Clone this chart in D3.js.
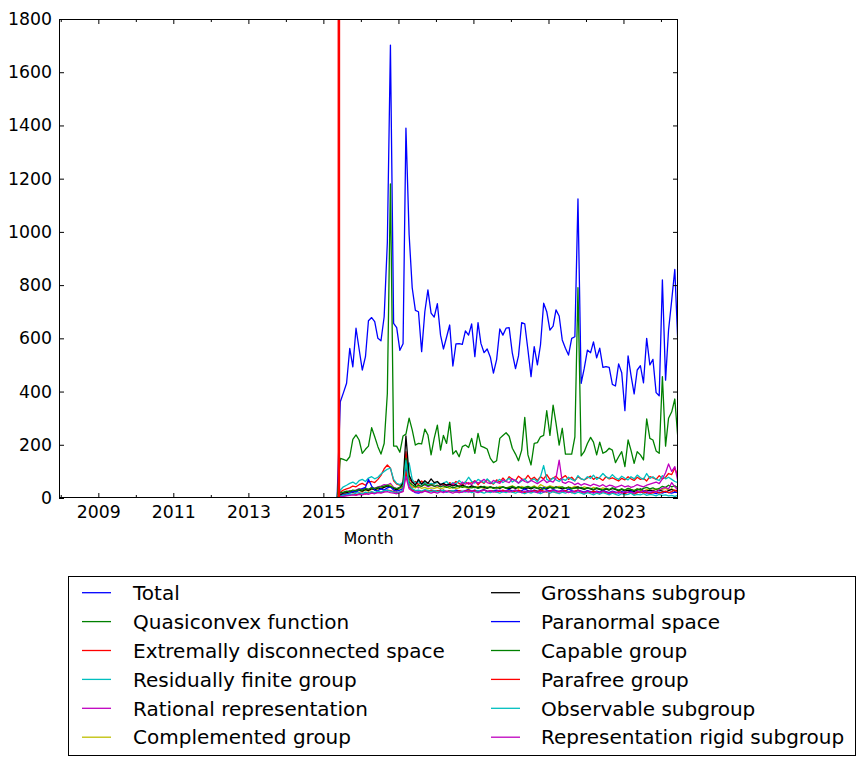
<!DOCTYPE html>
<html>
<head>
<meta charset="utf-8">
<script src="https://cdn.jsdelivr.net/npm/d3@7"></script>
<style>
  html, body { margin: 0; padding: 0; background: #ffffff; }
  svg { display: block; font-family: "DejaVu Sans", sans-serif; }
</style>
</head>
<body>
<svg id="chart" width="865" height="766"></svg>
<script>
// ---------------- DATA ----------------
const seriesNames = [
  "Total", "Quasiconvex function", "Extremally disconnected space",
  "Residually finite group", "Rational representation", "Complemented group",
  "Grosshans subgroup", "Paranormal space", "Capable group",
  "Parafree group", "Observable subgroup", "Representation rigid subgroup"
];
const seriesColors = ["#0000ff", "#008000", "#ff0000", "#00bfbf", "#bf00bf", "#bfbf00",
  "#000000", "#0000ff", "#008000", "#ff0000", "#00bfbf", "#bf00bf"];

// months with no activity (all series zero) before the first data month
const zeroMonths = ["2007-12", "2015-05"];
// first month of the monthly series below
const firstDataMonth = "2015-06";
const xDomainMonths = ["2007-12", "2024-06"];
const markerMonth = "2015-06-01";

const total = [362, 395, 431, 562, 493, 638, 560, 481, 531, 666,
  678, 663, 600, 591, 681, 960, 1702, 656, 640, 555,
  580, 1390, 990, 790, 705, 700, 550, 700, 782, 695,
  680, 730, 612, 560, 605, 650, 496, 579, 580, 577,
  628, 612, 654, 531, 659, 581, 546, 560, 529, 469,
  520, 635, 612, 638, 640, 544, 486, 534, 659, 654,
  556, 456, 569, 500, 575, 732, 700, 631, 646, 707,
  684, 594, 563, 537, 600, 606, 1124, 431, 487, 556,
  546, 587, 527, 563, 491, 494, 491, 427, 421, 504,
  471, 328, 534, 462, 391, 481, 497, 433, 600, 500,
  521, 396, 384, 820, 443, 631, 744, 859, 569];
const quasiconvex = [149, 145, 140, 155, 220, 237, 218, 168, 183, 195,
  264, 230, 193, 165, 205, 393, 1180, 195, 195, 172,
  233, 240, 300, 256, 199, 205, 203, 259, 237, 162,
  224, 274, 180, 235, 205, 285, 165, 178, 155, 193,
  199, 190, 224, 168, 243, 195, 190, 184, 149, 133,
  140, 224, 235, 245, 232, 187, 165, 140, 180, 303,
  162, 124, 205, 208, 230, 235, 328, 235, 349, 281,
  199, 262, 165, 165, 165, 230, 790, 158, 174, 205,
  228, 210, 162, 210, 168, 174, 187, 180, 133, 155,
  174, 118, 218, 180, 130, 174, 162, 143, 297, 224,
  218, 177, 168, 456, 195, 300, 324, 372, 218];
const extremally = [22, 30, 34, 38, 45, 42, 50, 55, 48, 60,
  62, 58, 70, 85, 110, 124, 112, 65, 52, 48,
  55, 174, 72, 58, 62, 50, 64, 52, 58, 47,
  55, 60, 48, 52, 45, 58, 50, 62, 55, 48,
  60, 52, 58, 65, 50, 62, 55, 70, 58, 52,
  68, 60, 75, 62, 80, 70, 65, 82, 72, 68,
  85, 70, 78, 66, 80, 72, 88, 70, 75, 82,
  68, 76, 84, 70, 78, 65, 80, 72, 68, 75,
  82, 70, 78, 74, 66, 80, 72, 76, 70, 64,
  74, 68, 80, 72, 66, 78, 70, 74, 64, 80,
  76, 70, 84, 72, 78, 92, 88, 112, 80];
const residually = [30, 42, 48, 55, 60, 52, 65, 70, 62, 75,
  80, 72, 78, 90, 100, 108, 112, 70, 55, 50,
  60, 110, 132, 70, 55, 62, 50, 58, 48, 55,
  52, 60, 50, 56, 62, 48, 58, 52, 66, 55,
  60, 78, 62, 56, 70, 64, 58, 72, 60, 55,
  62, 70, 58, 66, 74, 60, 68, 56, 64, 72,
  58, 66, 72, 60, 80, 122, 70, 64, 76, 68,
  62, 72, 66, 78, 70, 64, 84, 72, 68, 80,
  74, 86, 70, 78, 92, 80, 74, 88, 76, 70,
  82, 74, 68, 80, 72, 86, 76, 70, 92, 74,
  80, 70, 66, 84, 72, 78, 70, 62, 58];
const rational = [15, 20, 22, 28, 25, 30, 35, 32, 38, 30,
  40, 36, 42, 45, 50, 48, 55, 40, 35, 38,
  42, 95, 50, 40, 45, 38, 44, 50, 42, 48,
  45, 40, 52, 46, 50, 44, 55, 48, 42, 60,
  52, 58, 50, 64, 56, 62, 70, 58, 54, 66,
  60, 55, 68, 62, 58, 72, 64, 56, 70, 62,
  58, 66, 60, 54, 62, 70, 58, 64, 60, 75,
  142, 60, 55, 62, 58, 50, 56, 48, 54, 50,
  46, 52, 48, 44, 50, 42, 48, 46, 40, 44,
  48, 42, 46, 40, 44, 50, 46, 42, 48, 52,
  56, 60, 54, 72, 95, 128, 100, 118, 60];
const complemented = [10, 14, 18, 22, 20, 25, 28, 24, 30, 26,
  32, 35, 30, 38, 42, 45, 50, 36, 30, 34,
  40, 120, 60, 42, 38, 44, 36, 40, 34, 38,
  36, 40, 34, 38, 42, 36, 40, 35, 38, 44,
  40, 36, 42, 38, 44, 40, 36, 42, 38, 40,
  36, 44, 40, 38, 42, 46, 40, 36, 44, 38,
  42, 40, 46, 38, 50, 44, 40, 46, 42, 38,
  44, 40, 36, 42, 38, 44, 40, 36, 42, 38,
  34, 40, 36, 32, 38, 34, 30, 36, 32, 28,
  34, 30, 36, 32, 28, 34, 30, 26, 32, 28,
  30, 34, 28, 32, 36, 30, 34, 28, 30];
const grosshans = [12, 18, 20, 25, 22, 28, 30, 26, 32, 28,
  35, 30, 38, 34, 40, 45, 42, 36, 30, 40,
  55, 233, 85, 60, 48, 70, 52, 65, 55, 72,
  58, 62, 50, 55, 48, 52, 45, 50, 42, 48,
  44, 40, 46, 42, 38, 44, 40, 36, 42, 38,
  40, 36, 42, 38, 34, 40, 36, 42, 38, 35,
  38, 34, 40, 36, 32, 38, 34, 40, 36, 42,
  38, 34, 36, 40, 35, 38, 42, 36, 32, 38,
  34, 30, 36, 32, 28, 34, 30, 36, 32, 28,
  32, 26, 30, 28, 24, 30, 34, 28, 26, 30,
  28, 24, 30, 26, 22, 28, 32, 26, 30];
const paranormal = [8, 12, 15, 18, 25, 22, 30, 35, 40, 70,
  45, 30, 28, 34, 30, 38, 42, 30, 26, 30,
  35, 110, 45, 30, 20, 18, 22, 28, 25, 30,
  28, 24, 30, 26, 22, 28, 25, 30, 27, 24,
  28, 32, 26, 30, 24, 28, 32, 26, 22, 28,
  30, 26, 24, 28, 32, 26, 30, 24, 28, 34,
  28, 24, 30, 26, 22, 40, 30, 26, 32, 28,
  24, 30, 26, 34, 28, 24, 30, 26, 22, 28,
  24, 20, 26, 22, 28, 24, 20, 26, 22, 18,
  24, 20, 22, 26, 18, 22, 20, 24, 18, 22,
  20, 16, 22, 18, 24, 20, 18, 22, 20];
const capable = [20, 22, 26, 24, 30, 28, 32, 30, 35, 33,
  38, 36, 40, 42, 45, 48, 44, 38, 35, 40,
  45, 150, 60, 50, 42, 48, 44, 52, 46, 50,
  44, 48, 42, 46, 40, 44, 38, 42, 46, 40,
  44, 40, 38, 42, 36, 40, 44, 38, 42, 36,
  40, 38, 42, 36, 40, 44, 38, 42, 36, 40,
  44, 38, 42, 36, 40, 34, 38, 42, 36, 40,
  38, 42, 36, 40, 34, 38, 36, 40, 34, 38,
  36, 32, 38, 34, 30, 36, 32, 38, 34, 30,
  34, 30, 36, 32, 28, 34, 30, 36, 40, 34,
  38, 32, 36, 44, 40, 48, 42, 46, 38];
const parafree = [5, 8, 10, 12, 14, 12, 16, 18, 15, 20,
  22, 18, 24, 20, 26, 30, 28, 24, 20, 22,
  26, 100, 40, 30, 26, 28, 24, 30, 26, 28,
  24, 28, 26, 30, 24, 28, 26, 22, 28, 24,
  26, 30, 24, 28, 22, 26, 30, 24, 28, 26,
  22, 26, 30, 24, 28, 22, 26, 30, 24, 20,
  26, 22, 28, 24, 30, 26, 22, 28, 24, 20,
  26, 22, 28, 24, 20, 26, 30, 22, 18, 24,
  20, 26, 22, 18, 24, 20, 16, 22, 18, 24,
  20, 16, 22, 18, 14, 20, 24, 18, 22, 16,
  20, 24, 18, 22, 26, 20, 24, 30, 22];
const observable = [6, 10, 12, 15, 14, 18, 20, 16, 22, 18,
  24, 20, 26, 22, 28, 30, 26, 22, 18, 24,
  30, 140, 45, 35, 28, 30, 26, 32, 28, 24,
  28, 24, 26, 30, 22, 26, 28, 24, 20, 26,
  22, 26, 20, 24, 28, 22, 18, 24, 20, 26,
  22, 18, 24, 20, 26, 22, 18, 24, 20, 16,
  22, 18, 24, 20, 16, 22, 26, 18, 24, 20,
  16, 22, 18, 24, 20, 16, 22, 18, 14, 20,
  16, 12, 18, 14, 20, 16, 12, 18, 14, 10,
  16, 12, 14, 18, 10, 14, 12, 16, 10, 14,
  12, 8, 14, 10, 12, 8, 10, 6, 10];
const repRigid = [4, 6, 8, 10, 12, 10, 14, 12, 16, 14,
  18, 16, 20, 18, 22, 24, 20, 18, 16, 20,
  24, 80, 35, 26, 22, 24, 20, 26, 22, 18,
  22, 18, 24, 20, 26, 22, 18, 24, 20, 22,
  26, 22, 28, 24, 20, 26, 30, 24, 28, 22,
  26, 30, 24, 28, 22, 26, 30, 24, 20, 26,
  22, 28, 24, 20, 26, 22, 28, 24, 30, 26,
  22, 28, 24, 20, 26, 22, 28, 24, 20, 26,
  22, 18, 24, 20, 26, 22, 18, 24, 20, 22,
  18, 24, 20, 22, 18, 26, 22, 28, 24, 20,
  26, 22, 30, 36, 40, 34, 58, 42, 30];

const seriesValues = [total, quasiconvex, extremally, residually, rational, complemented,
  grosshans, paranormal, capable, parafree, observable, repRigid];

const yTicks = [0, 200, 400, 600, 800, 1000, 1200, 1400, 1600, 1800];
const xMajorYears = [2009, 2011, 2013, 2015, 2017, 2019, 2021, 2023];
const xMinorYears = [2008, 2010, 2012, 2014, 2016, 2018, 2020, 2022, 2024];
const xLabel = "Month";

// ---------------- LAYOUT ----------------
const M = { left: 59, right: 678, top: 19, bottom: 498 };
const tickFont = "17.3px";
const legendFont = "20px";
const parseMonth = s => { const [y, m] = s.split("-").map(Number); return new Date(y, m - 1, 15); };
const parseDay = s => { const [y, m, d] = s.split("-").map(Number); return new Date(y, m - 1, d); };

const x = d3.scaleTime()
  .domain(xDomainMonths.map(parseMonth))
  .range([M.left, M.right]);
const y = d3.scaleLinear().domain([0, 1800]).range([M.bottom, M.top]);

const firstDate = parseMonth(firstDataMonth);
const dataDates = total.map((_, i) => d3.timeMonth.offset(firstDate, i));
const zeroDates = zeroMonths.map(parseMonth);

const svg = d3.select("#chart");
svg.append("rect").attr("width", 865).attr("height", 766).attr("fill", "#fff");

svg.append("defs").append("clipPath").attr("id", "clip")
  .append("rect").attr("x", M.left).attr("y", M.top)
  .attr("width", M.right - M.left).attr("height", M.bottom - M.top);

const line = d3.line().x(d => x(d[0])).y(d => y(d[1]));

const gLines = svg.append("g").attr("clip-path", "url(#clip)");
seriesValues.forEach((vals, k) => {
  const pts = zeroDates.map(d => [d, 0]).concat(vals.map((v, i) => [dataDates[i], v]));
  gLines.append("path")
    .datum(pts)
    .attr("d", line)
    .attr("fill", "none")
    .attr("stroke", seriesColors[k])
    .attr("stroke-width", 1.3)
    .attr("stroke-linejoin", "round");
});

// red vertical marker
const mx = x(parseDay(markerMonth));
gLines.append("line")
  .attr("x1", mx).attr("x2", mx)
  .attr("y1", M.top).attr("y2", M.bottom)
  .attr("stroke", "#ff0000").attr("stroke-width", 2.6);

// ---------------- AXES ----------------
const majorDates = xMajorYears.map(yr => new Date(yr, 0, 1));
const minorDates = xMinorYears.map(yr => new Date(yr, 0, 1));

function styleAxis(g) {
  g.select(".domain").remove();
  g.selectAll("line").attr("stroke", "#000").attr("stroke-width", 1);
  g.selectAll("text").attr("fill", "#000").style("font-size", tickFont)
    .style("font-family", "'DejaVu Sans', sans-serif");
}

// bottom
svg.append("g").attr("transform", `translate(0,${M.bottom})`)
  .call(d3.axisBottom(x).tickValues(majorDates).tickFormat(d3.timeFormat("%Y"))
    .tickSizeInner(-5).tickSizeOuter(0).tickPadding(8))
  .call(styleAxis);
svg.append("g").attr("transform", `translate(0,${M.bottom})`)
  .call(d3.axisBottom(x).tickValues(minorDates).tickFormat("").tickSizeInner(-3).tickSizeOuter(0))
  .call(styleAxis);
// top
svg.append("g").attr("transform", `translate(0,${M.top})`)
  .call(d3.axisTop(x).tickValues(majorDates).tickFormat("").tickSizeInner(-5).tickSizeOuter(0))
  .call(styleAxis);
svg.append("g").attr("transform", `translate(0,${M.top})`)
  .call(d3.axisTop(x).tickValues(minorDates).tickFormat("").tickSizeInner(-3).tickSizeOuter(0))
  .call(styleAxis);
// left
svg.append("g").attr("transform", `translate(${M.left},0)`)
  .call(d3.axisLeft(y).tickValues(yTicks).tickFormat(d3.format("d"))
    .tickSizeInner(-5).tickSizeOuter(0).tickPadding(7))
  .call(styleAxis);
// right
svg.append("g").attr("transform", `translate(${M.right},0)`)
  .call(d3.axisRight(y).tickValues(yTicks).tickFormat("").tickSizeInner(-5).tickSizeOuter(0))
  .call(styleAxis);

// frame
svg.append("rect")
  .attr("x", M.left + 0.5).attr("y", M.top + 0.5)
  .attr("width", M.right - M.left - 1).attr("height", M.bottom - M.top - 1)
  .attr("fill", "none").attr("stroke", "#000").attr("stroke-width", 1);

// x label
svg.append("text")
  .attr("x", (M.left + M.right) / 2).attr("y", 544)
  .attr("text-anchor", "middle")
  .style("font-size", "16px").attr("fill", "#000")
  .text(xLabel);

// ---------------- LEGEND ----------------
const legend = svg.append("g");
legend.append("rect")
  .attr("x", 68.5).attr("y", 576.5).attr("width", 787).attr("height", 179)
  .attr("fill", "#fff").attr("stroke", "#000").attr("stroke-width", 1);
const rowsPerCol = 6;
const colX = [82, 491];
const textX = [133, 541];
seriesNames.forEach((name, k) => {
  const col = Math.floor(k / rowsPerCol);
  const row = k % rowsPerCol;
  const cy = 592.7 + row * 28.9;
  legend.append("line")
    .attr("x1", colX[col]).attr("x2", colX[col] + 29)
    .attr("y1", cy).attr("y2", cy)
    .attr("stroke", seriesColors[k]).attr("stroke-width", 1.3);
  legend.append("text")
    .attr("x", textX[col]).attr("y", cy).attr("dy", "0.36em")
    .style("font-size", legendFont).attr("fill", "#000")
    .text(name);
});
</script>
</body>
</html>
